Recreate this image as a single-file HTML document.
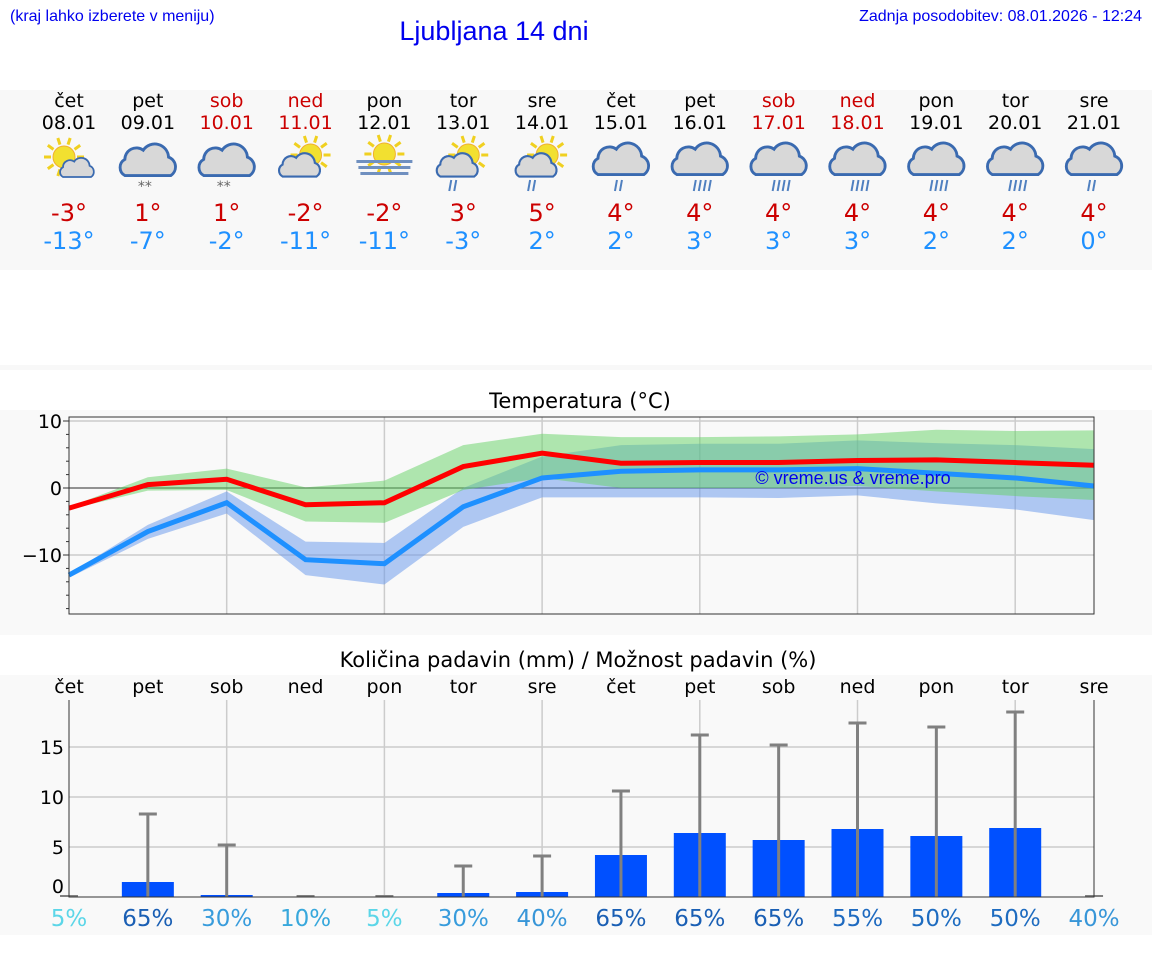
<!DOCTYPE html>
<html><head><meta charset="utf-8"><style>
body{margin:0;background:#fff;font-family:"DejaVu Sans","Liberation Sans",sans-serif;}
svg{display:block}
</style></head><body>
<svg id="s" width="1152" height="975" xmlns="http://www.w3.org/2000/svg" font-family="DejaVu Sans, Liberation Sans, sans-serif"></svg>
<script>
const s=document.getElementById('s');let h='';
const X=i=>69+78.85*i;
h+='<rect x="0" y="90" width="1152" height="180" fill="#f8f8f8"/>';
h+='<rect x="0" y="365" width="1152" height="5" fill="#f8f8f8"/>';
h+='<rect x="0" y="410" width="1152" height="225" fill="#f9f9f9"/>';
h+='<rect x="0" y="675" width="1152" height="260" fill="#f9f9f9"/>';
h+='<text x="10" y="21" font-size="16" fill="#0000ee" font-family="Liberation Sans">(kraj lahko izberete v meniju)</text>';
h+='<text x="1142" y="21" font-size="16" fill="#0000ee" text-anchor="end" font-family="Liberation Sans">Zadnja posodobitev: 08.01.2026 - 12:24</text>';
h+='<text x="494" y="40" font-size="27" fill="#0000ee" text-anchor="middle" font-family="Liberation Sans">Ljubljana 14 dni</text>';
const days=['čet','pet','sob','ned','pon','tor','sre','čet','pet','sob','ned','pon','tor','sre'];
const dates=['08.01','09.01','10.01','11.01','12.01','13.01','14.01','15.01','16.01','17.01','18.01','19.01','20.01','21.01'];
const red=[2,3,9,10];
const tmax=[-3,1,1,-2,-2,3,5,4,4,4,4,4,4,4],tmin=[-13,-7,-2,-11,-11,-3,2,2,3,3,3,2,2,0];
function sun(cx,cy,r){let g='';for(let a=0;a<360;a+=36){const t=a*Math.PI/180;g+=`<line x1="${cx+Math.cos(t)*(r+2)}" y1="${cy+Math.sin(t)*(r+2)}" x2="${cx+Math.cos(t)*(r+9)}" y2="${cy+Math.sin(t)*(r+9)}" stroke="#f0d020" stroke-width="3"/>`;}return g+`<circle cx="${cx}" cy="${cy}" r="${r}" fill="#f2e030" stroke="#f0b030"/>`;}
function cloud(cx,cy,k){return `<g transform="translate(${cx},${cy}) scale(${k})" fill="#d8d8d8" stroke="#3a6ab0" stroke-width="2.5"><path d="M-20,10 a8,8 0 0 1 0,-14 a10,10 0 0 1 16,-8 a12,12 0 0 1 22,6 a9,9 0 0 1 2,16 z"/></g>`;}
function rain(x,n){let g='';for(let k=0;k<n;k++){const xx=x-6+k*5;g+=`<line x1="${xx+2}" y1="180" x2="${xx}" y2="191" stroke="#5080c0" stroke-width="2"/>`;}return g;}
for(let i=0;i<14;i++){const x=X(i);const c=red.includes(i)?'#cc0000':'#000';
h+=`<text x="${x}" y="107" font-size="19" text-anchor="middle" fill="${c}">${days[i]}</text>`;
h+=`<text x="${x}" y="129" font-size="19" text-anchor="middle" fill="${c}">${dates[i]}</text>`;
h+=`<text x="${x}" y="221" font-size="24" text-anchor="middle" fill="#cc0000">${tmax[i]}°</text>`;
h+=`<text x="${x}" y="249" font-size="24" text-anchor="middle" fill="#1e90ff">${tmin[i]}°</text>`;
let ic='';
if(i==0){ic=sun(x-5,157,11)+cloud(x+8,170,0.7);}
else if(i==1||i==2){ic=cloud(x,164,1.15)+`<text x="${x-3}" y="191" font-size="14" fill="#666" text-anchor="middle">**</text>`;}
else if(i==3){ic=sun(x+5,155,11)+cloud(x-6,168,0.85);}
else if(i==4){ic=sun(x,154,11)+`<rect x="${x-28}" y="160" width="56" height="3" fill="#7090c0"/><rect x="${x-26}" y="166" width="52" height="3" fill="#7090c0"/><rect x="${x-24}" y="172" width="48" height="3" fill="#7090c0"/>`;}
else if(i==5||i==6){ic=sun(x+5,155,11)+cloud(x-6,168,0.85)+rain(x-8,2);}
else {ic=cloud(x,163,1.15)+rain(x,(i==7||i==13)?2:4);}
h+=ic;}
// Temperature chart
const Y=t=>488-6.7*t;
h+='<text x="580" y="408" font-size="21" text-anchor="middle">Temperatura (°C)</text>';
for(let i=2;i<14;i+=2)h+=`<line x1="${X(i)}" y1="417" x2="${X(i)}" y2="614" stroke="#ccc" stroke-width="1.5"/>`;
[10,-10].forEach(t=>h+=`<line x1="69" y1="${Y(t)}" x2="1094" y2="${Y(t)}" stroke="#ccc" stroke-width="1.5"/>`);
h+=`<line x1="69" y1="488" x2="1094" y2="488" stroke="#555" stroke-width="1.2"/>`;
function band(up,lo,fill){let p=up.map((v,i)=>X(i)+','+Y(v)).join(' ');p+=' '+lo.map((v,i)=>X(i)+','+Y(v)).reverse().join(' ');return `<polygon points="${p}" fill="${fill}"/>`;}
const gU=[-2.8,1.6,2.9,0.1,1.1,6.4,8.1,7.6,7.6,7.7,8.0,8.7,8.5,8.6],gL=[-3.2,-0.4,-0.3,-5,-5.2,-0.3,1.5,0,0,0,0.3,-0.5,-1.2,-1.8];
const bU=[-12.8,-5.5,-0.5,-8,-8.2,0,4.7,6.4,6.6,6.6,7.1,6.7,6.4,5.8],bL=[-13.4,-7.6,-3.8,-13,-14.4,-5.8,-1.4,-1.4,-1.4,-1.5,-1.1,-2.3,-3.2,-4.8];
h+=band(bU,bL,'rgba(100,150,235,0.5)');
h+=band(gU,gL,'rgba(100,210,100,0.5)');
const rM=[-3,0.5,1.3,-2.5,-2.2,3.2,5.2,3.7,3.8,3.8,4.1,4.2,3.8,3.4],bM=[-13,-6.5,-2.2,-10.7,-11.3,-2.8,1.5,2.5,2.7,2.7,2.9,2.2,1.5,0.3];
h+=`<polyline points="${rM.map((v,i)=>X(i)+','+Y(v)).join(' ')}" fill="none" stroke="#ff0000" stroke-width="5"/>`;
h+=`<polyline points="${bM.map((v,i)=>X(i)+','+Y(v)).join(' ')}" fill="none" stroke="#1e90ff" stroke-width="5"/>`;
h+='<text x="853" y="484" font-size="18" text-anchor="middle" fill="#0000ee" font-family="Liberation Sans">© vreme.us &amp; vreme.pro</text>';
h+='<rect x="69" y="417" width="1025" height="197" fill="none" stroke="#333" stroke-width="1"/>';
for(let t=-18;t<=10;t+=2)h+=`<line x1="69" y1="${Y(t)}" x2="${t%10==0?63:66}" y2="${Y(t)}" stroke="#333"/>`;
h+=`<text x="62" y="${Y(10)+7}" font-size="19" text-anchor="end">10</text><text x="62" y="${Y(0)+7}" font-size="19" text-anchor="end">0</text><text x="62" y="${Y(-10)+7}" font-size="19" text-anchor="end">−10</text>`;
// Precip chart
const P=v=>897-10*v;
h+='<text x="578" y="667" font-size="21" text-anchor="middle">Količina padavin (mm) / Možnost padavin (%)</text>';
for(let i=0;i<14;i++)h+=`<text x="${X(i)}" y="693" font-size="19" text-anchor="middle">${days[i]}</text>`;
for(let i=2;i<14;i+=2)h+=`<line x1="${X(i)}" y1="700" x2="${X(i)}" y2="897" stroke="#ccc" stroke-width="1.5"/>`;
[5,10,15].forEach(v=>h+=`<line x1="69" y1="${P(v)}" x2="1094" y2="${P(v)}" stroke="#ccc" stroke-width="1.5"/>`);
const pv=[0,1.5,0.2,0,0,0.4,0.5,4.2,6.4,5.7,6.8,6.1,6.9,0],pe=[0,8.3,5.2,0,0,3.1,4.1,10.6,16.2,15.2,17.4,17.0,18.5,0];
const pc=['5%','65%','30%','10%','5%','30%','40%','65%','65%','65%','55%','50%','50%','40%'];
const col={'5%':'#5cd6e8','10%':'#38a8dc','30%':'#389cdc','40%':'#3896d8','50%':'#1e6cc0','55%':'#1e6ac0','65%':'#1a5fb4'};
for(let i=0;i<14;i++){const x=X(i);
if(pv[i]>0)h+=`<rect x="${x-26}" y="${P(pv[i])}" width="52" height="${10*pv[i]}" fill="#0050ff"/>`;
if(pe[i]>0)h+=`<line x1="${x}" y1="897" x2="${x}" y2="${P(pe[i])}" stroke="#808080" stroke-width="3"/><line x1="${x-9}" y1="${P(pe[i])}" x2="${x+9}" y2="${P(pe[i])}" stroke="#808080" stroke-width="3"/>`;
else h+=`<line x1="${x-9}" y1="896" x2="${x+9}" y2="896" stroke="#808080" stroke-width="2"/>`;
h+=`<text x="${x}" y="926" font-size="23" text-anchor="middle" fill="${col[pc[i]]}">${pc[i]}</text>`;}
h+='<polyline points="69,700 69,897 1094,897 1094,700" fill="none" stroke="#333" stroke-width="1"/>';
[[15,754],[10,804],[5,854],[0,893]].forEach(a=>h+=`<text x="64" y="${a[1]}" font-size="19" text-anchor="end">${a[0]}</text>`);
s.innerHTML=h;
</script>
</body></html>
